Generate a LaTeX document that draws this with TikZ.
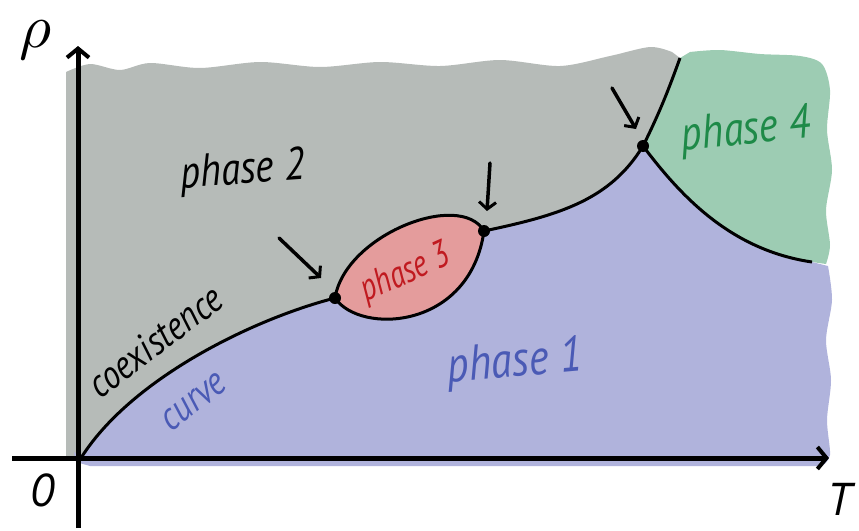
\documentclass[tikz,border=0pt]{standalone}
\usepackage{fontspec}
\setsansfont{PT Sans}
\usetikzlibrary{arrows.meta}
\definecolor{grayreg}{HTML}{B6BBB8}
\definecolor{purpreg}{HTML}{B0B3DC}
\definecolor{greenreg}{HTML}{9DCCB3}
\definecolor{redreg}{HTML}{E49C9C}
\definecolor{redtxt}{HTML}{C01A20}
\definecolor{greentxt}{HTML}{1E8A48}
\definecolor{bluetxt}{HTML}{4A5AB5}
\tikzset{
  axis/.style={line width=5pt, -{Straight Barb[length=9pt,width=22pt,line width=4pt]}},
  bound/.style={line width=3pt},
  pointer/.style={line width=3.5pt, line cap=round, -{Straight Barb[length=7pt,width=17pt,line width=3pt]}},
  triple/.style={circle, fill=black, inner sep=0pt, minimum size=12pt},
  hand/.style={font=\sffamily\itshape\fontsize{46}{48}\selectfont, inner sep=0pt},
  smallhand/.style={font=\sffamily\itshape\fontsize{40}{42}\selectfont, inner sep=0pt}
}
\begin{document}
\begin{tikzpicture}[x=1pt,y=-1pt]
\useasboundingbox (0,0) rectangle (859,530);
% key points
\coordinate (O) at (81,458);
\coordinate (A) at (335,298);
\coordinate (B) at (484,231);
\coordinate (C) at (643,146);
\coordinate (D) at (812,262);
\coordinate (Ctop) at (680,58);
% gray region (phase 2)
\fill[grayreg] (66,445) -- plot[smooth] coordinates {(66,72) (90,64) (120,70) (150,63) (200,68) (260,62) (320,67) (380,62) (440,66) (500,60) (560,66) (610,56) (650,47) (672,52)} -- (Ctop) -- (C) -- (643,320) -- (66,460) -- cycle;
% green region (phase 4)
\fill[greenreg] (C) .. controls (662,108) and (672,80) .. (Ctop)
  -- plot[smooth] coordinates {(690,52) (720,50) (760,54) (800,56) (822,64) (830,90) (827,130) (832,170) (826,210) (830,245) (826,264)}
  -- (D) .. controls (730,250) and (680,195) .. (C) -- cycle;
% purple region (phase 1)
\fill[purpreg] (O) .. controls (130,380) and (250,320) .. (A)
  .. controls (360,335) and (470,330) .. (B)
  .. controls (560,215) and (610,200) .. (C)
  .. controls (680,195) and (730,250) .. (D)
  -- plot[smooth] coordinates {(828,266) (832,300) (826,340) (831,380) (827,420) (830,455) (822,466)}
  -- (90,466) -- (76,462) -- (74,452) -- cycle;
% red region (phase 3)
\fill[redreg] (A) .. controls (345,235) and (460,190) .. (B)
  .. controls (470,330) and (360,335) .. (A) -- cycle;
% boundaries
\draw[bound] (O) .. controls (130,380) and (250,320) .. (A);
\draw[bound] (A) .. controls (345,235) and (460,190) .. (B);
\draw[bound] (A) .. controls (360,335) and (470,330) .. (B);
\draw[bound] (B) .. controls (560,215) and (610,200) .. (C);
\draw[bound] (C) .. controls (662,108) and (672,80) .. (Ctop);
\draw[bound] (C) .. controls (680,195) and (730,250) .. (D);
% axes
\coordinate (yb) at (78,528);
\coordinate (yt) at (78,46);
\coordinate (xl) at (12,458);
\coordinate (xr) at (829,458);
\draw[axis] (yb) -- (yt);
\draw[axis] (xl) -- (xr);
% triple points
\node[triple] (pA) at (A) {};
\node[triple] (pB) at (B) {};
\node[triple] (pC) at (C) {};
% pointers
\coordinate (a1) at (279,238);
\coordinate (a1e) at (321,278);
\coordinate (a2) at (490,163);
\coordinate (a2e) at (487,211);
\coordinate (a3) at (612,88);
\coordinate (a3e) at (636,129);
\draw[pointer] (a1) -- (a1e);
\draw[pointer] (a2) -- (a2e);
\draw[pointer] (a3) -- (a3e);
% labels
\node[inner sep=0pt] (rho) at (36,40) {\scalebox{6.2}{$\rho$}};
\node[hand] (zero) at (42,490) {0};
\node[hand] (T) at (840,499) {T};
\node[hand, rotate=4] (ph2) at (243,172) {\scalebox{0.85}[1]{phase 2}};
\node[hand, text=redtxt, rotate=24, font=\sffamily\itshape\fontsize{38}{40}\selectfont] (ph3) at (406,274) {\scalebox{0.78}[1]{phase 3}};
\node[hand, text=greentxt, rotate=6, font=\sffamily\itshape\fontsize{48}{50}\selectfont] (ph4) at (746,132) {\scalebox{0.85}[1]{phase 4}};
\node[hand, text=bluetxt, rotate=5, font=\sffamily\itshape\fontsize{50}{52}\selectfont] (ph1) at (515,364) {\scalebox{0.85}[1]{phase 1}};
\node[smallhand, rotate=37] (coex) at (155,341) {\scalebox{0.85}[1]{coexistence}};
\node[smallhand, text=bluetxt, rotate=38] (curve) at (194,402) {\scalebox{0.85}[1]{curve}};
\end{tikzpicture}
\end{document}
